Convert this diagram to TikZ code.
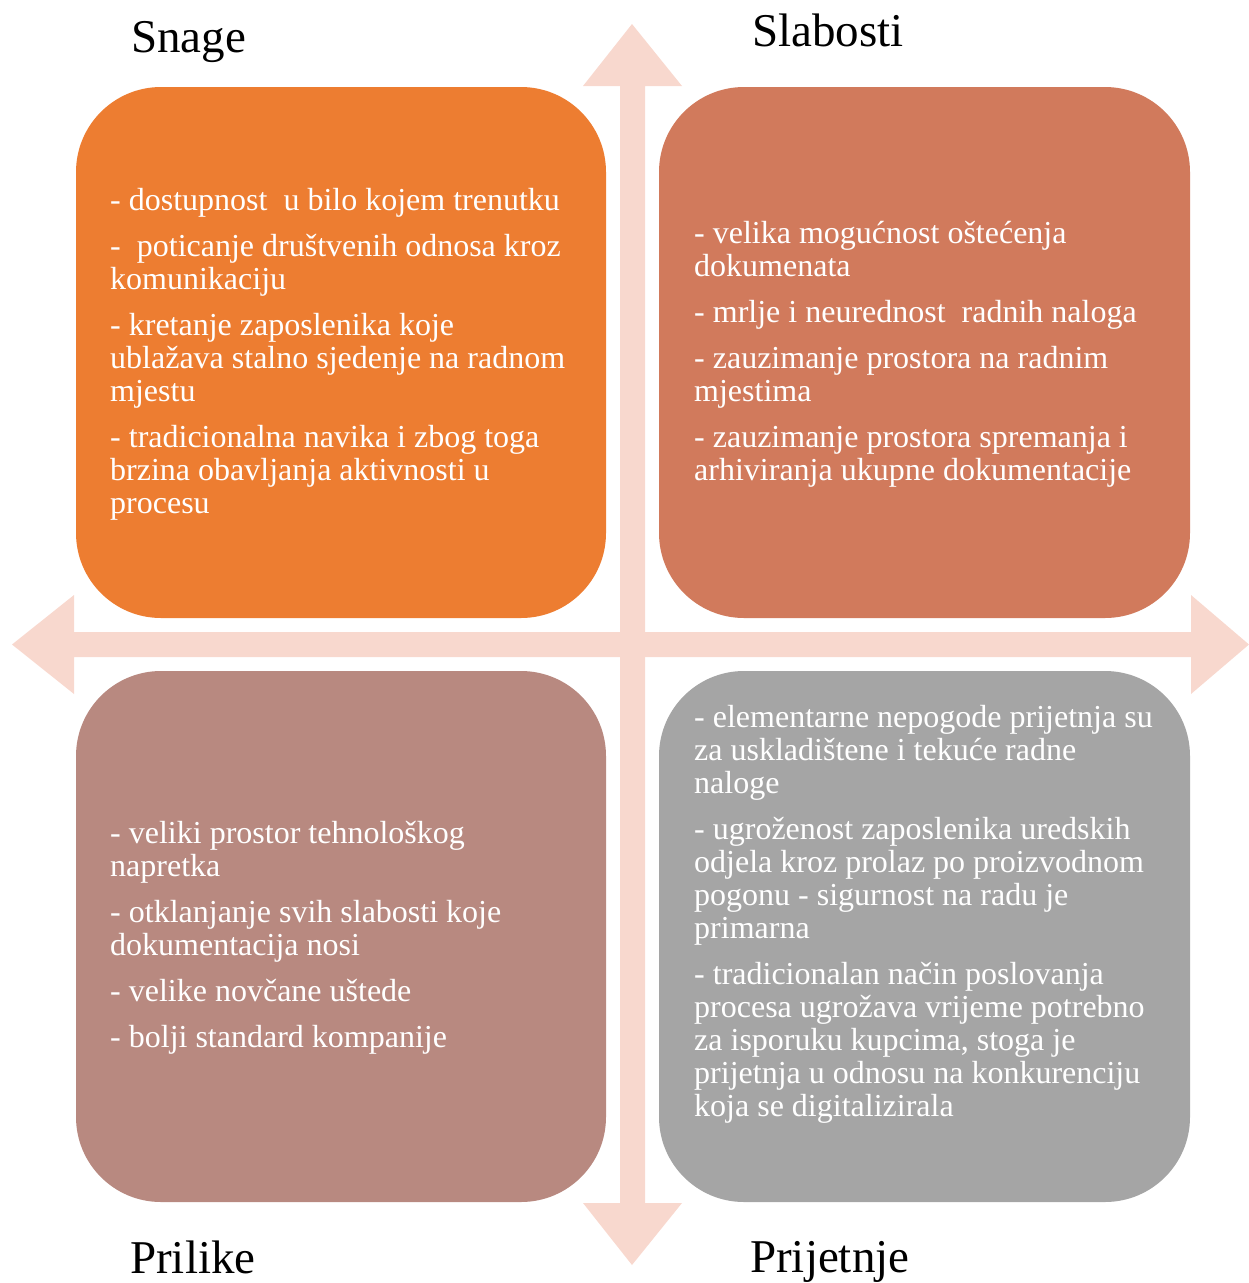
\documentclass[tikz,border=0pt]{standalone}
\usepackage{fontspec}
\setmainfont{Liberation Serif}
\usepackage{tikz}
\definecolor{snagecol}{HTML}{ED7D31}
\definecolor{slabcol}{HTML}{D17A5C}
\definecolor{prilcol}{HTML}{B88980}
\definecolor{prijcol}{HTML}{A5A5A5}
\definecolor{arrowcol}{HTML}{F8D8CE}
\begin{document}
\begin{tikzpicture}[x=1pt,y=-1pt,
    quad/.style={rounded corners=85pt},
    boxtext/.style={anchor=north west,inner sep=0pt,align=left,text=white,
        font=\fontsize{32}{33}\selectfont},
    title/.style={anchor=base west,inner sep=0pt,font=\fontsize{47}{50}\selectfont}]
        \useasboundingbox (0,0) rectangle (1249,1283);
        % arrows
        \fill[arrowcol] (620,86) -- (583,86) -- (632,24) -- (682,86) -- (645,86)
            -- (645,1203) -- (682,1203) -- (632,1265) -- (583,1203) -- (620,1203) -- cycle;
        \fill[arrowcol] (74,632) -- (74,595) -- (12,644.5) -- (74,694) -- (74,657)
            -- (1191,657) -- (1191,694) -- (1249,644.5) -- (1191,595) -- (1191,632) -- cycle;
        % quadrants
        \fill[snagecol, quad] (76,87) rectangle (606,618);
        \fill[slabcol, quad] (659,87) rectangle (1190,618);
        \fill[prilcol, quad] (76,671) rectangle (606,1202);
        \fill[prijcol, quad] (659,671) rectangle (1190,1202);
        % titles
        \node[title] (snage) at (131,52) {Snage};
        \node[title] (slabosti) at (752,46) {Slabosti};
        \node[title] (prilike) at (130,1273) {Prilike};
        \node[title] (prijetnje) at (750,1272) {Prijetnje};
        % texts
        \node[boxtext] (snagetxt) at (110,187) {\strut- dostupnost\ \ u bilo kojem trenutku\\[13pt]
            - \ poticanje društvenih odnosa kroz\\komunikaciju\\[13pt]
            - kretanje zaposlenika koje\\ublažava stalno sjedenje na radnom\\mjestu\\[13pt]
            - tradicionalna navika i zbog toga\\brzina obavljanja aktivnosti u\\procesu};
        \node[boxtext] (slabtxt) at (694,220) {\strut- velika mogućnost oštećenja\\dokumenata\\[13pt]
            - mrlje i neurednost\ \ radnih naloga\\[13pt]
            - zauzimanje prostora na radnim\\mjestima\\[13pt]
            - zauzimanje prostora spremanja i\\arhiviranja ukupne dokumentacije};
        \node[boxtext] (priltxt) at (110,820) {\strut- veliki prostor tehnološkog\\napretka\\[13pt]
            - otklanjanje svih slabosti koje\\dokumentacija nosi\\[13pt]
            - velike novčane uštede\\[13pt]
            - bolji standard kompanije};
        \node[boxtext] (prijtxt) at (694,704) {\strut- elementarne nepogode prijetnja su\\za uskladištene i tekuće radne\\naloge\\[13pt]
            - ugroženost zaposlenika uredskih\\odjela kroz prolaz po proizvodnom\\pogonu - sigurnost na radu je\\primarna\\[13pt]
            - tradicionalan način poslovanja\\procesa ugrožava vrijeme potrebno\\za isporuku kupcima, stoga je\\prijetnja u odnosu na konkurenciju\\koja se digitalizirala};
\end{tikzpicture}
\end{document}
